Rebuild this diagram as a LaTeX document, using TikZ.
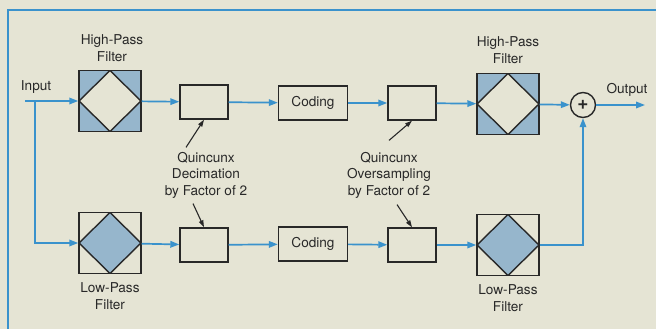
\documentclass[tikz,border=0pt]{standalone}
\usepackage{fontspec}
\setmainfont{TeX Gyre Heros}
\usetikzlibrary{arrows.meta}
\definecolor{qbg}{RGB}{229,228,212}
\definecolor{qblue}{RGB}{58,146,204}
\definecolor{qshade}{RGB}{150,182,204}
\definecolor{qink}{RGB}{40,40,40}

\begin{document}
\begin{tikzpicture}[
    x=1pt, y=-1pt,
    every node/.style={text=qink},
    txt/.style={font=\fontsize{13.6}{16.5}\selectfont, align=center},
    blk/.style={rectangle, draw=qink, line width=1.4pt,
                minimum height=34pt, inner sep=0pt, font=\fontsize{13.6}{16}\selectfont},
    filt/.style={rectangle, draw=qink, line width=1.4pt,
                 minimum width=62pt, minimum height=61pt, inner sep=0pt},
    hpf/.style={filt, fill=qshade,
                path picture={\draw[qink, line width=1.4pt, fill=qbg]
                  (path picture bounding box.north) -- (path picture bounding box.east)
                  -- (path picture bounding box.south) -- (path picture bounding box.west) -- cycle;}},
    lpf/.style={filt, fill=qbg,
                path picture={\draw[qink, line width=1.4pt, fill=qshade]
                  (path picture bounding box.north) -- (path picture bounding box.east)
                  -- (path picture bounding box.south) -- (path picture bounding box.west) -- cycle;}},
    arr/.style={-{Triangle[length=9pt, width=6.5pt]}, qblue, line width=1.7pt},
    ptr/.style={-{Triangle[length=7pt, width=4.5pt]}, qink, line width=1.1pt},
  ]

  % ── background and frame ─────────────────────────
  \fill[qbg] (0,0) rectangle (656,329);
  \useasboundingbox (0,0) rectangle (656,329);
  \draw[qblue, line width=1.6pt] (8,345) -- (8,10) -- (670,10);

  % ── upper branch ─────────────────────────────────
  \node[txt] (hlbl1) at (112,48) {High-Pass\\Filter};
  \node[hpf] (hpf1) at (110,101) {};
  \node[blk, minimum width=48pt] (dec1) at (204,102) {};
  \node[blk, minimum width=69pt] (cod1) at (313,103) {Coding};
  \node[blk, minimum width=48pt] (ovs1) at (412,103) {};
  \node[txt] (hlbl2) at (508,50) {High-Pass\\Filter};
  \node[hpf] (hpf2) at (508,104) {};
  \node[circle, draw=qink, line width=1.4pt, minimum size=25pt, inner sep=0pt,
        font=\fontsize{19}{19}\bfseries] (sum) at (583,105) {\raisebox{1pt}{+}};

  % ── lower branch ─────────────────────────────────
  \node[lpf] (lpf1) at (110,243) {};
  \node[txt] (llbl1) at (110,296) {Low-Pass\\Filter};
  \node[blk, minimum width=48pt] (dec2) at (204,245) {};
  \node[blk, minimum width=69pt] (cod2) at (313,244) {Coding};
  \node[blk, minimum width=48pt] (ovs2) at (412,245) {};
  \node[lpf] (lpf2) at (508,245) {};
  \node[txt] (llbl2) at (508,298) {Low-Pass\\Filter};

  % ── annotations ──────────────────────────────────
  \node[txt] (decl) at (206,175) {Quincunx\\Decimation\\by Factor of 2};
  \node[txt] (ovsl) at (389,175) {Quincunx\\Oversampling\\by Factor of 2};
  \draw[ptr] (decl.north) ++(-20,-1) coordinate (d1) -- (dec1.south);
  \draw[ptr] (ovsl.north) ++(0,-8) coordinate (o1) -- (ovs1.south);
  \draw[ptr] (decl.south) ++(-13,2) coordinate (d2) -- (dec2.north);
  \draw[ptr] (ovsl.south) ++(8,3) coordinate (o2) -- (ovs2.north);

  % ── signal flow ──────────────────────────────────
  \node[txt] (inlbl) at (36,87) {Input};
  \node[txt] (outlbl) at (627,90) {Output};
  \coordinate (in) at (25,101);
  \coordinate (split) at (35,101);
  \coordinate (out) at (645,105);

  \draw[arr] (in) -- (hpf1);
  \draw[arr] (split) |- (lpf1);
  \draw[arr] (hpf1) -- (dec1);
  \draw[arr] (dec1) -- (cod1);
  \draw[arr] (cod1) -- (ovs1);
  \draw[arr] (ovs1) -- (hpf2);
  \draw[arr] (hpf2) -- (sum);
  \draw[arr] (sum) -- (out);
  \draw[arr] (lpf1) -- (dec2);
  \draw[arr] (dec2) -- (cod2);
  \draw[arr] (cod2) -- (ovs2);
  \draw[arr] (ovs2) -- (lpf2);
  \draw[arr] (lpf2) -| (sum);

\end{tikzpicture}
\end{document}
